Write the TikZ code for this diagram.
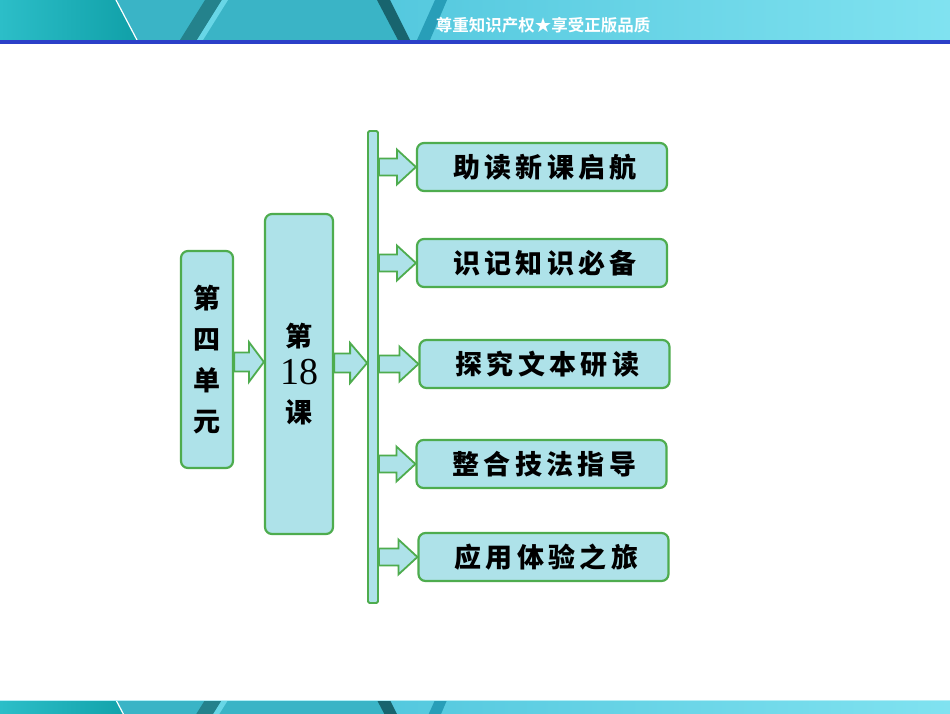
\documentclass[tikz,border=0pt]{standalone}
\usepackage{fontspec}
\newfontfamily\cjk{Noto Sans CJK SC Black}
\newfontfamily\cjkwide[LetterSpace=16]{Noto Sans CJK SC Black}
\newfontfamily\cjkbanner{Noto Sans CJK SC Bold}
\newfontfamily\numfont{Liberation Serif}
\definecolor{boxcyan}{RGB}{174,226,233}
\definecolor{boxgreen}{RGB}{78,172,78}
\definecolor{bannerA}{RGB}{44,190,200}
\definecolor{bannerB}{RGB}{16,160,168}
\definecolor{bannerC}{RGB}{58,180,198}
\definecolor{bannerD}{RGB}{84,200,222}
\definecolor{bannerE}{RGB}{128,226,240}
\definecolor{stripeDark}{RGB}{36,130,140}
\definecolor{stripeLight}{RGB}{104,214,230}
\definecolor{stripeDeep}{RGB}{24,100,110}
\definecolor{stripeMid}{RGB}{40,158,184}
\definecolor{rulerblue}{RGB}{44,64,200}
\usetikzlibrary{calc}
%% banner strip, 40pt high, drawn from y=0 downwards
\newcommand\drawbanner{%
  \fill[left color=bannerA,right color=bannerB] (0,0) -- (116,0) -- (137,40) -- (0,40) -- cycle;
  \fill[bannerC] (116,0) -- (385,0) -- (405,40) -- (137,40) -- cycle;
  \fill[left color=bannerD,right color=bannerE] (385,0) -- (950,0) -- (950,40) -- (405,40) -- cycle;
  \draw[white,line width=1.2pt] (116,0) -- (137,40);
  \fill[stripeDark] (205,0) -- (222,0) -- (197,40) -- (180,40) -- cycle;
  \fill[stripeLight] (222,0) -- (228,0) -- (203,40) -- (197,40) -- cycle;
  \fill[stripeDeep] (377,0) -- (390,0) -- (410,40) -- (398,40) -- cycle;
  \fill[stripeMid] (435,0) -- (447,0) -- (430,40) -- (417,40) -- cycle;}
%% block arrow: start point, tip point, shaft half, head half, head length
\newcommand\blockarrow[5]{%
  \draw[arrowbox] let \p1=(#1), \p2=(#2) in
    (\x1,\y1+#3) -- (\x2-#5,\y1+#3) -- (\x2-#5,\y1+#4) -- (\x2,\y1)
    -- (\x2-#5,\y1-#4) -- (\x2-#5,\y1-#3) -- (\x1,\y1-#3) -- cycle;}
\begin{document}
\begin{tikzpicture}[x=1pt,y=-1pt,
  waterbox/.style={draw=boxgreen,line width=2.2pt,fill=boxcyan,rounded corners=7pt,inner sep=0pt},
  arrowbox/.style={draw=boxgreen,line width=1.8pt,fill=boxcyan,line join=miter},
  topic/.style={waterbox,minimum width=250pt,minimum height=48pt,
                font=\cjkwide\fontsize{27}{27}\selectfont}]
  \useasboundingbox (0,0) rectangle (950,713);
  \fill[white] (0,0) rectangle (950,713);
  %% Top banner
  \drawbanner
  \fill[rulerblue] (0,40) rectangle (950,44);
  \node[font=\cjkbanner\fontsize{16.5}{16.5}\selectfont,text=white] (slogan) at (543,25)
        {尊重知识产权★享受正版品质};
  %% Bottom banner
  \begin{scope}
    \clip (0,700) rectangle (950,713);
    \begin{scope}[shift={(0,700)}]
      \drawbanner
    \end{scope}
    \draw[bannerE!60!white,line width=0.8pt] (0,700.4) -- (950,700.4);
  \end{scope}
  %% Unit and lesson
  \node[waterbox,minimum width=52pt,minimum height=217pt,align=center,
        font=\cjk\fontsize{27}{41}\selectfont]
        (unit) at (207,359.5) {第\\四\\单\\元};
  \node[waterbox,minimum width=68pt,minimum height=320pt,align=center,
        font=\cjk\fontsize{27}{38}\selectfont]
        (lesson) at (299,374) {第\\{\numfont\fontsize{38}{38}\selectfont 18}\\课};
  %% Vertical bar
  \node[draw=boxgreen,line width=1.8pt,fill=boxcyan,rounded corners=1.5pt,
        minimum width=10pt,minimum height=472pt,inner sep=0pt]
        (bar) at (373,367) {};
  %% Topics
  \node[topic] (r1) at (542,167)   {\hspace*{6pt}助读新课启航};
  \node[topic] (r2) at (542,263)   {\hspace*{6pt}识记知识必备};
  \node[topic] (r3) at (544.5,364) {\hspace*{6pt}探究文本研读};
  \node[topic] (r4) at (541.5,464) {\hspace*{6pt}整合技法指导};
  \node[topic] (r5) at (543.5,557) {\hspace*{6pt}应用体验之旅};
  %% Arrows
  \blockarrow{[yshift=-2.5pt]unit.east}{lesson.west}{9.5pt}{20pt}{15pt}
  \blockarrow{[yshift=11pt]lesson.east}{bar.west}{9.5pt}{20pt}{17pt}
  \foreach \r in {r1,r2,r3,r4,r5}
    {\blockarrow{bar.east |- \r.west}{\r.west}{8.5pt}{17.5pt}{19pt}}
\end{tikzpicture}
\end{document}
